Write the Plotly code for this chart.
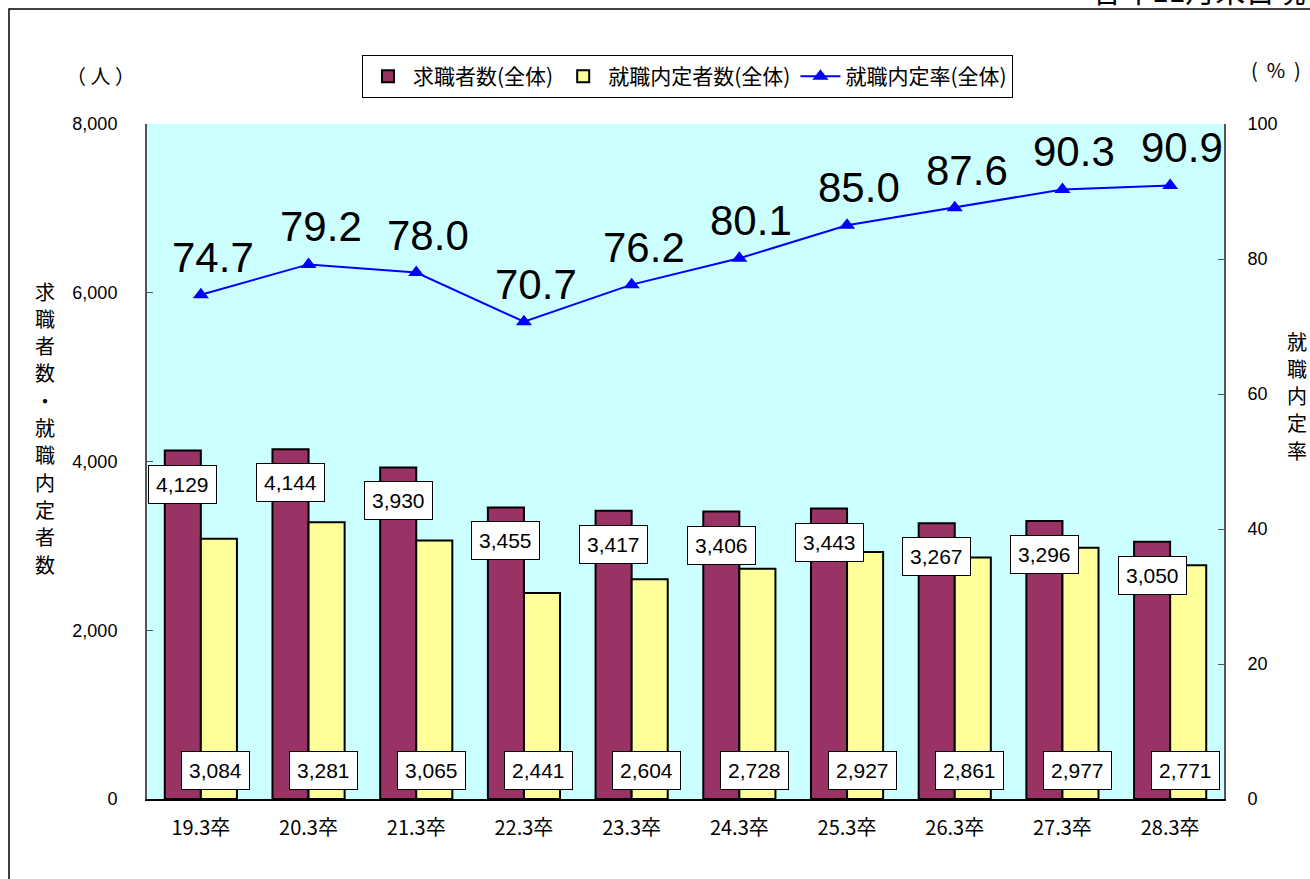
import plotly.graph_objects as go

categories = ["19.3卒", "20.3卒", "21.3卒", "22.3卒", "23.3卒", "24.3卒", "25.3卒", "26.3卒", "27.3卒", "28.3卒"]
job_seekers = [4129, 4144, 3930, 3455, 3417, 3406, 3443, 3267, 3296, 3050]
placed = [3084, 3281, 3065, 2441, 2604, 2728, 2927, 2861, 2977, 2771]
rate = [74.7, 79.2, 78.0, 70.7, 76.2, 80.1, 85.0, 87.6, 90.3, 90.9]
left_title = "求職者数・就職内定者数"
right_title = "就職内定率"

JP = "Noto Sans CJK JP"
NUM = "Liberation Sans, Arial, sans-serif"
W, H = 1310, 879
# on-screen plot area: x 147..1224, y 124..799
L, T = 147, 124
R = W - 1224
B = H - 799
pw, ph = W - L - R, H - T - B

def px(x):
    return (x - L) / pw

def py(y):
    return (H - B - y) / ph

fig = go.Figure()
fig.add_trace(go.Bar(x=categories, y=job_seekers, name="求職者数(全体)",
                     marker=dict(color="#993366", line=dict(color="black", width=2)),
                     yaxis="y"))
fig.add_trace(go.Bar(x=categories, y=placed, name="就職内定者数(全体)",
                     marker=dict(color="#FFFF99", line=dict(color="black", width=2)),
                     yaxis="y"))
fig.add_trace(go.Scatter(x=categories, y=rate, name="就職内定率(全体)", mode="lines+markers",
                         line=dict(color="#0000FF", width=2),
                         marker=dict(symbol="triangle-up", size=14, color="#0000FF"),
                         yaxis="y2"))

ann = []
group_w = pw / len(categories) * (1 - 0.33)
half = group_w / 4
for c, v in zip(categories, job_seekers):
    ann.append(dict(x=c, y=v, xref="x", yref="y", text=f"{v:,}", showarrow=False,
                    xshift=-half, yshift=-14, xanchor="center", yanchor="top",
                    font=dict(size=21, color="black", family=NUM),
                    bgcolor="white", bordercolor="black", borderwidth=1, borderpad=7))
for c, v in zip(categories, placed):
    ann.append(dict(x=c, y=0, xref="x", yref="y", text=f"{v:,}", showarrow=False,
                    xshift=half - 3, yshift=9, xanchor="center", yanchor="bottom",
                    font=dict(size=21, color="black", family=NUM),
                    bgcolor="white", bordercolor="black", borderwidth=1, borderpad=7))
for c, v in zip(categories, rate):
    ann.append(dict(x=c, y=v, xref="x", yref="y2", text=f"{v:.1f}", showarrow=False,
                    xshift=12, yshift=12, xanchor="center", yanchor="bottom",
                    font=dict(size=42, color="black", family=NUM)))

def label(text, x, y, size=20, **kw):
    d = dict(x=px(x), y=py(y), xref="paper", yref="paper", text=text, showarrow=False,
             xanchor="center", yanchor="middle", font=dict(size=size, color="black", family=JP))
    d.update(kw)
    ann.append(d)

label("（ 人 ）", 100, 75)
label("(  %  )", 1276, 70)
for i, ch in enumerate(left_title):
    label(ch, 45, 291 + i * 27.3)
for i, ch in enumerate(right_title):
    label(ch, 1297, 341 + i * 27.3)
label("各年11月末日現在", 1090, 13, size=30, xanchor="left", yanchor="bottom")

fig.update_layout(
    width=W, height=H,
    margin=dict(l=L, r=R, t=T, b=B),
    paper_bgcolor="white",
    plot_bgcolor="#CCFFFF",
    barmode="group", bargap=0.33, bargroupgap=0,
    font=dict(family=JP, color="black", size=17),
    showlegend=True,
    legend=dict(orientation="h", x=px(362), y=py(55), xanchor="left", yanchor="top",
                bordercolor="black", borderwidth=1, bgcolor="white",
                font=dict(size=21, family=JP), traceorder="normal", itemwidth=40),
    xaxis=dict(range=[-0.5, len(categories) - 0.5], showgrid=False, showline=True,
               linecolor="black", linewidth=2,
               tickfont=dict(size=20, family=JP), ticks="", ticklabelstandoff=10,
               automargin=False),
    yaxis=dict(range=[0, 8000], dtick=2000, tickformat=",", showgrid=False,
               showline=True, linecolor="#555555", linewidth=2, ticks="inside",
               ticklen=6, tickcolor="#555555", ticklabelstandoff=24, zeroline=False,
               tickfont=dict(size=18, family=NUM), automargin=False),
    yaxis2=dict(range=[0, 100], dtick=20, overlaying="y", side="right", showgrid=False,
                showline=True, linecolor="#555555", linewidth=2, ticks="inside",
                ticklen=6, tickcolor="#555555", ticklabelstandoff=18, zeroline=False,
                tickfont=dict(size=18, family=NUM), automargin=False),
    annotations=ann,
    shapes=[dict(type="rect", xref="paper", yref="paper",
                 x0=px(9), x1=px(1400), y0=py(950), y1=py(9),
                 line=dict(color="black", width=1.5), fillcolor="rgba(0,0,0,0)", layer="below")],
)

fig.write_html("out.html", config={"displayModeBar": False},
               post_script="document.body.style.margin='0';document.body.style.overflow='hidden';")
